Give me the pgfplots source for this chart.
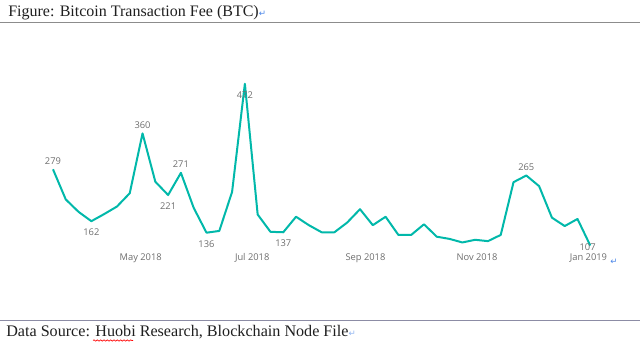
\documentclass[border=0pt]{standalone}
\usepackage{pgfplots}
\usepackage{pgfplotstable}
\pgfplotsset{compat=1.18}
\usetikzlibrary{decorations.pathmorphing}
\usepackage{fontspec}
\setmainfont{Liberation Serif}
\newfontfamily\pbi{Open Sans}
\newfontfamily\dvs{DejaVu Sans}
\definecolor{teal}{HTML}{01B8AA}
\definecolor{lblgray}{HTML}{6E6E6E}
\definecolor{retblue}{HTML}{4A86E8}

\pgfplotstableread{
x y
-48 279
-41 211
-34 183
-27 162
-20 178
-13 195
-6 225
1 360
8 251
15 221
22 271
29 192
36 136
43 140
50 228
57 472
64 177
71 138
78 137
85 172
92 153
99 137
106 137
113 159
120 189
127 153
134 172
141 131
148 131
155 155
162 127
169 122
176 114
183 120
190 117
197 131
204 250
211 265
218 241
225 170
232 151
239 167
246 107
}\feedata

\pgfplotstableread{
x y label
-48 279 279
1 360 360
22 271 271
211 265 265
}\lababove

\pgfplotstableread{
x y label
-27 162 162
15 221 221
36 136 136
57 472 472
78 137 137
}\labbelow

\pgfplotstableread{
x y label
246 107 107
}\labcenter

\begin{document}
\begin{tikzpicture}
\useasboundingbox (0,0) rectangle (480pt,257.25pt);
\begin{axis}[
  at={(0pt,69.75pt)}, anchor=south west,
  scale only axis, width=480pt, height=171pt,
  xmin=-76.99, xmax=273.2, ymin=97.0, ymax=611.2,
  clip=false,
  axis line style={draw=none},
  ytick=\empty,
  xtick={0,61,123,184,245},
  xticklabels={May 2018,Jul 2018,Sep 2018,Nov 2018,Jan 2019},
  major tick length=0pt,
  xticklabel style={font=\pbi\fontsize{7}{8}\selectfont, text=lblgray, anchor=north, inner sep=0pt, yshift=-2.5pt},
  every node near coord/.append style={font=\pbi\fontsize{7}{8}\selectfont, text=lblgray, inner sep=0pt},
]
\addplot[draw=none, mark=none, nodes near coords, point meta=explicit symbolic,
  every node near coord/.append style={anchor=south, yshift=3.5pt}]
  table[x=x, y=y, meta=label] {\lababove};
\addplot[draw=none, mark=none, nodes near coords, point meta=explicit symbolic,
  every node near coord/.append style={anchor=north, yshift=-5.5pt}]
  table[x=x, y=y, meta=label] {\labbelow};
\addplot[draw=none, mark=none, nodes near coords, point meta=explicit symbolic,
  every node near coord/.append style={anchor=center, xshift=-2pt, yshift=-1.5pt}]
  table[x=x, y=y, meta=label] {\labcenter};
\addplot[color=teal, line width=1.5pt, mark=none, line join=round] table[x=x, y=y] {\feedata};
\end{axis}
\begin{scope}[x=0.75pt, y=-0.75pt, yshift=257.25pt]
  \draw[color=black!45, line width=1.1pt] (0,22.5) -- (640,22.5);
  \draw[color={rgb,255:red,140;green,140;blue,165}, line width=0.9pt] (0,320.5) -- (640,320.5);
  \node[anchor=base west, inner sep=0pt, text=black!88] at (8,17)
    {\fontsize{12}{14}\selectfont Figure: Bitcoin Transaction Fee (BTC)\textcolor{retblue}{\dvs\fontsize{6.5}{7}\selectfont ↵}};
  \node[anchor=base west, inner sep=0pt, text=black!88] at (6,337)
    {\fontsize{12.1}{14}\selectfont Data Source: Huobi Research, Blockchain Node File\textcolor{retblue!60}{\dvs\fontsize{6.5}{7}\selectfont ↵}};
  \node[anchor=center, inner sep=0pt] at (614,262) {\textcolor{retblue}{\dvs\fontsize{6.5}{7}\selectfont ↵}};
  \draw[red, line width=0.5pt, decorate, decoration={snake, amplitude=0.5pt, segment length=2.5pt}] (93,340.5) -- (133,340.5);
\end{scope}
\end{tikzpicture}
\end{document}
